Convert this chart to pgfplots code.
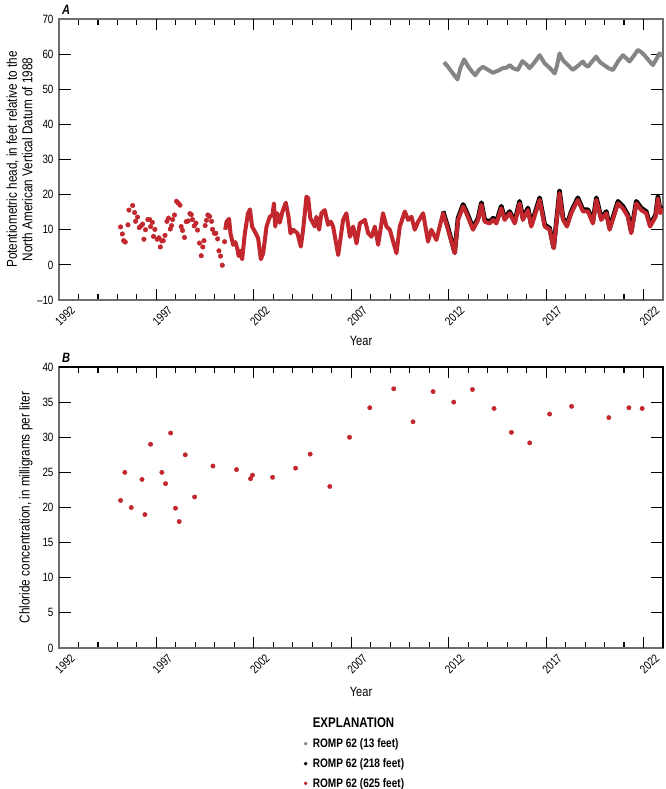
\documentclass[border=0pt]{standalone}
\usepackage{fontspec}
\setmainfont{Liberation Sans}[FakeStretch=0.82]
\usepackage{pgfplots}
\pgfplotsset{compat=1.18}
\definecolor{rred}{HTML}{C1272D}
\definecolor{rgray}{HTML}{858585}
\definecolor{axgray}{HTML}{6E6E6E}

\pgfplotsset{
 common/.style={
  scale only axis, width=604pt, height=281pt,
  clip mode=individual,
  xmin=1992, xmax=2023,
  xtick={1992,1997,...,2022}, minor xtick={1993,1994,1995,1996,1998,1999,2000,2001,2003,2004,2005,2006,2008,2009,2010,2011,2013,2014,2015,2016,2018,2019,2020,2021,2023},
  xticklabel style={anchor=center, xshift=6pt, yshift=-16pt, rotate=45},
  yticklabel style={xshift=-2pt},
  axis line style={axgray, line width=1.1pt},
  tick style={black, line width=1.1pt},
  major tick style={black, line width=1.1pt},
  minor tick style={black, line width=1.1pt},
  tickwidth=11pt, subtickwidth=6pt,
  tick align=inside,
  /pgf/number format/assume math mode=true,
  /pgf/number format/1000 sep={},
  tick label style={font=\fontsize{12}{13}\selectfont},
  xlabel={Year},
  ylabel style={at={(axis description cs:-0.038,0.5)}, anchor=south, align=center,
    font=\fontsize{14.3}{15.5}\selectfont},
 }
}

\begin{document}
\begin{tikzpicture}
\useasboundingbox (0,0) rectangle (665pt,-789pt);

% ---------------- Panel A ----------------
\begin{axis}[common,
  at={(59pt,-19pt)}, anchor=north west,
  ymin=-10, ymax=70, ytick={-10,0,...,70},
  yticklabels={\textendash10,0,10,20,30,40,50,60,70},
  xlabel style={at={(axis description cs:0.5,0)}, anchor=center, yshift=-41pt,
    font=\fontsize{13.5}{15}\selectfont},
  ylabel={Potentiometric head, in feet relative to the\\North American Vertical Datum of 1988},
]
\node[anchor=south west, inner sep=0pt, xshift=3pt, yshift=4pt,
  font=\bfseries\itshape\fontsize{13.5}{15}\selectfont] at (rel axis cs:0,1) {A};
\pgfplotsinvokeforeach{1997,2002,...,2022}{
  \draw[black, line width=1.1pt] (axis cs:#1,-10) -- ++(0pt,10pt);
  \draw[black, line width=1.1pt] (axis cs:#1,70) -- ++(0pt,-10pt);
}
\pgfplotsinvokeforeach{0,10,...,60}{
  \draw[black, line width=1.1pt] (axis cs:1992,#1) -- ++(12pt,0pt);
  \draw[black, line width=1.1pt] (axis cs:2023,#1) -- ++(-12pt,0pt);
}

% ROMP 62 (13 feet)
\addplot[rgray, line width=4pt, line join=round] table {
2011.76 57.7
2011.95 56.5
2012.15 55.0
2012.45 52.8
2012.60 56.0
2012.79 58.5
2013.00 56.5
2013.20 55.0
2013.37 54.0
2013.55 55.5
2013.76 56.4
2014.00 55.6
2014.27 54.7
2014.50 55.2
2014.78 56.0
2015.00 56.2
2015.13 56.9
2015.30 56.0
2015.55 55.5
2015.78 58.0
2016.00 57.0
2016.15 56.0
2016.40 57.6
2016.67 59.7
2016.80 58.5
2016.92 57.4
2017.20 56.0
2017.44 54.5
2017.55 56.5
2017.69 60.2
2017.86 58.3
2018.10 57.0
2018.37 55.5
2018.60 56.5
2018.89 57.9
2019.00 57.0
2019.14 56.4
2019.35 57.8
2019.57 59.3
2019.75 57.8
2020.00 56.8
2020.20 56.0
2020.43 55.5
2020.70 58.0
2020.94 59.7
2021.10 58.9
2021.28 57.9
2021.50 59.5
2021.71 61.2
2021.90 60.5
2022.05 59.7
2022.30 58.0
2022.48 56.9
2022.65 58.5
2022.82 60.2
2022.97 59.5
};

% ROMP 62 (218 feet)
\addplot[black, line width=4.6pt, line join=round] table {
2011.71 15.3
2011.97 10.5
2012.31 3.5
2012.48 13.3
2012.74 17.2
2012.91 15.2
2013.25 10.5
2013.51 13.3
2013.68 17.7
2013.85 12.8
2014.10 12.3
2014.28 13.3
2014.45 12.3
2014.70 16.7
2014.87 13.3
2015.13 15.2
2015.39 12.3
2015.64 18.1
2015.81 13.3
2016.07 16.2
2016.24 11.4
2016.67 19.1
2016.93 11.4
2017.18 10.5
2017.39 4.9
2017.69 21.0
2017.87 13.3
2018.07 11.4
2018.29 15.2
2018.63 19.1
2018.89 15.7
2019.15 15.7
2019.40 12.3
2019.58 19.1
2019.83 13.3
2020.09 15.2
2020.26 10.5
2020.69 18.1
2020.94 16.7
2021.20 14.2
2021.37 9.5
2021.63 18.1
2021.88 16.2
2022.14 15.2
2022.34 11.4
2022.62 14.2
2022.74 19.5
2022.86 15.2
2022.99 16.7
};

% ROMP 62 (625 feet), continuous record
\addplot[rred, line width=4pt, line join=round] table {
2000.53 10.0
2000.60 12.3
2000.73 13.1
2000.80 9.0
2000.94 5.7
2001.05 6.5
2001.15 4.7
2001.22 2.5
2001.30 4.0
2001.40 1.6
2001.54 9.0
2001.70 14.7
2001.80 15.8
2001.91 10.9
2002.05 9.5
2002.22 7.6
2002.36 1.6
2002.48 3.3
2002.65 10.9
2002.82 13.7
2002.96 14.2
2003.03 17.5
2003.10 10.9
2003.20 14.7
2003.33 12.0
2003.47 15.2
2003.64 17.7
2003.78 13.7
2003.88 9.0
2004.02 10.0
2004.24 9.0
2004.41 5.2
2004.53 10.0
2004.70 19.4
2004.79 19.0
2004.90 13.3
2005.13 10.9
2005.21 13.7
2005.35 10.0
2005.47 14.7
2005.64 15.6
2005.81 11.4
2005.95 12.3
2006.07 10.9
2006.33 2.8
2006.58 12.8
2006.75 14.7
2006.93 8.0
2007.10 10.9
2007.27 6.1
2007.44 11.8
2007.70 12.8
2007.87 9.0
2008.04 8.0
2008.21 10.9
2008.38 5.7
2008.63 14.7
2008.81 10.9
2008.98 10.0
2009.32 3.3
2009.49 10.9
2009.75 15.2
2009.92 12.8
2010.09 13.7
2010.26 10.0
2010.43 12.3
2010.69 14.7
2010.94 6.6
2011.11 10.0
2011.37 7.1
2011.71 14.7
2011.97 10.0
2012.31 3.3
2012.48 12.8
2012.74 16.6
2012.91 14.7
2013.25 10.0
2013.51 12.8
2013.68 17.1
2013.85 12.3
2014.10 11.8
2014.28 12.8
2014.45 11.8
2014.70 16.1
2014.87 12.8
2015.13 14.7
2015.39 11.8
2015.64 17.5
2015.81 12.8
2016.07 15.6
2016.24 10.9
2016.67 18.5
2016.93 10.9
2017.18 10.0
2017.39 4.7
2017.69 20.4
2017.87 12.8
2018.07 10.9
2018.29 14.7
2018.63 18.5
2018.89 15.2
2019.15 15.2
2019.40 11.8
2019.58 18.5
2019.83 12.8
2020.09 14.7
2020.26 10.0
2020.69 17.5
2020.94 16.1
2021.20 13.7
2021.37 9.0
2021.63 17.5
2021.88 15.6
2022.14 14.7
2022.34 10.9
2022.62 13.7
2022.74 18.9
2022.86 14.7
2022.99 16.1
};

% ROMP 62 (625 feet), discrete measurements
\addplot[only marks, mark=*, mark size=2.3pt, rred] table {
1995.16 10.8
1995.25 8.8
1995.32 6.9
1995.40 6.5
1995.54 11.4
1995.59 15.6
1995.78 16.9
1995.88 14.9
1995.93 12.4
1996.03 13.6
1996.12 10.6
1996.21 11.1
1996.29 11.6
1996.36 7.3
1996.44 10.0
1996.56 12.9
1996.65 12.9
1996.70 10.9
1996.79 12.1
1996.85 8.1
1996.92 10.1
1997.04 7.3
1997.13 7.7
1997.20 5.1
1997.28 6.8
1997.35 6.9
1997.44 8.4
1997.54 12.4
1997.62 13.3
1997.71 10.2
1997.78 11.2
1997.83 12.9
1997.93 14.2
1998.03 18.1
1998.12 17.6
1998.21 17.0
1998.27 10.9
1998.34 9.8
1998.44 7.8
1998.53 12.3
1998.63 12.5
1998.72 14.6
1998.79 14.3
1998.85 12.9
1998.94 11.1
1999.03 11.9
1999.11 9.9
1999.21 6.2
1999.30 2.6
1999.38 5.1
1999.44 6.9
1999.50 11.2
1999.57 12.7
1999.64 14.2
1999.73 13.8
1999.83 12.4
1999.88 10.1
1999.97 9.0
2000.05 9.0
2000.14 7.4
2000.21 4.0
2000.29 2.5
2000.38 -0.1
2000.50 6.6
};
\end{axis}

% ---------------- Panel B ----------------
\begin{axis}[common,
  at={(59pt,-367pt)}, anchor=north west,
  ymin=0, ymax=40, ytick={0,5,...,40},
  xlabel style={at={(axis description cs:0.5,0)}, anchor=center, yshift=-44pt,
    font=\fontsize{13.5}{15}\selectfont},
  ylabel={Chloride concentration, in milligrams per liter},
  legend style={draw=none, fill=none, at={(rel axis cs:0.405,-0.24)}, anchor=north west,
    font=\bfseries\fontsize{12.3}{14}\selectfont, row sep=5.5pt, cells={anchor=west},
    inner sep=0pt},
]
\node[anchor=south west, inner sep=0pt, xshift=3pt, yshift=4pt,
  font=\bfseries\itshape\fontsize{13.5}{15}\selectfont] at (rel axis cs:0,1) {B};
\draw[black, line width=1.1pt] (rel axis cs:0,1) -- (rel axis cs:1,1) -- (rel axis cs:1,0);
\pgfplotsinvokeforeach{1997,2002,...,2022}{
  \draw[black, line width=1.1pt] (axis cs:#1,0) -- ++(0pt,10pt);
  \draw[black, line width=1.1pt] (axis cs:#1,40) -- ++(0pt,-10pt);
}
\pgfplotsinvokeforeach{5,10,...,35}{
  \draw[black, line width=1.1pt] (axis cs:1992,#1) -- ++(12pt,0pt);
  \draw[black, line width=1.1pt] (axis cs:2023,#1) -- ++(-12pt,0pt);
}

\addplot[only marks, mark=*, mark size=2.2pt, rred, forget plot] table {
1995.16 21.0
1995.38 25.0
1995.71 20.0
1996.26 24.0
1996.41 19.0
1996.70 29.0
1997.28 25.0
1997.47 23.4
1997.73 30.6
1997.98 19.9
1998.17 18.0
1998.48 27.5
1998.96 21.5
1999.90 25.9
2001.11 25.4
2001.83 24.1
2001.93 24.6
2002.96 24.3
2004.14 25.6
2004.89 27.6
2005.90 23.0
2006.91 30.0
2007.95 34.2
2009.18 36.9
2010.17 32.2
2011.20 36.5
2012.26 35.0
2013.22 36.8
2014.33 34.1
2015.22 30.7
2016.16 29.2
2017.18 33.3
2018.31 34.4
2020.22 32.8
2021.25 34.2
2021.93 34.1
};

\addlegendimage{empty legend}
\addlegendentry{\fontsize{14}{16}\selectfont EXPLANATION}
\addlegendimage{legend image code/.code={\path (0pt,0pt); \fill[rgray] (-5pt,0pt) circle (1.6pt);}}
\addlegendentry{ROMP 62 (13 feet)}
\addlegendimage{legend image code/.code={\path (0pt,0pt); \fill[black] (-5pt,0pt) circle (1.6pt);}}
\addlegendentry{ROMP 62 (218 feet)}
\addlegendimage{legend image code/.code={\path (0pt,0pt); \fill[rred] (-5pt,0pt) circle (1.6pt);}}
\addlegendentry{ROMP 62 (625 feet)}
\end{axis}
\end{tikzpicture}
\end{document}
